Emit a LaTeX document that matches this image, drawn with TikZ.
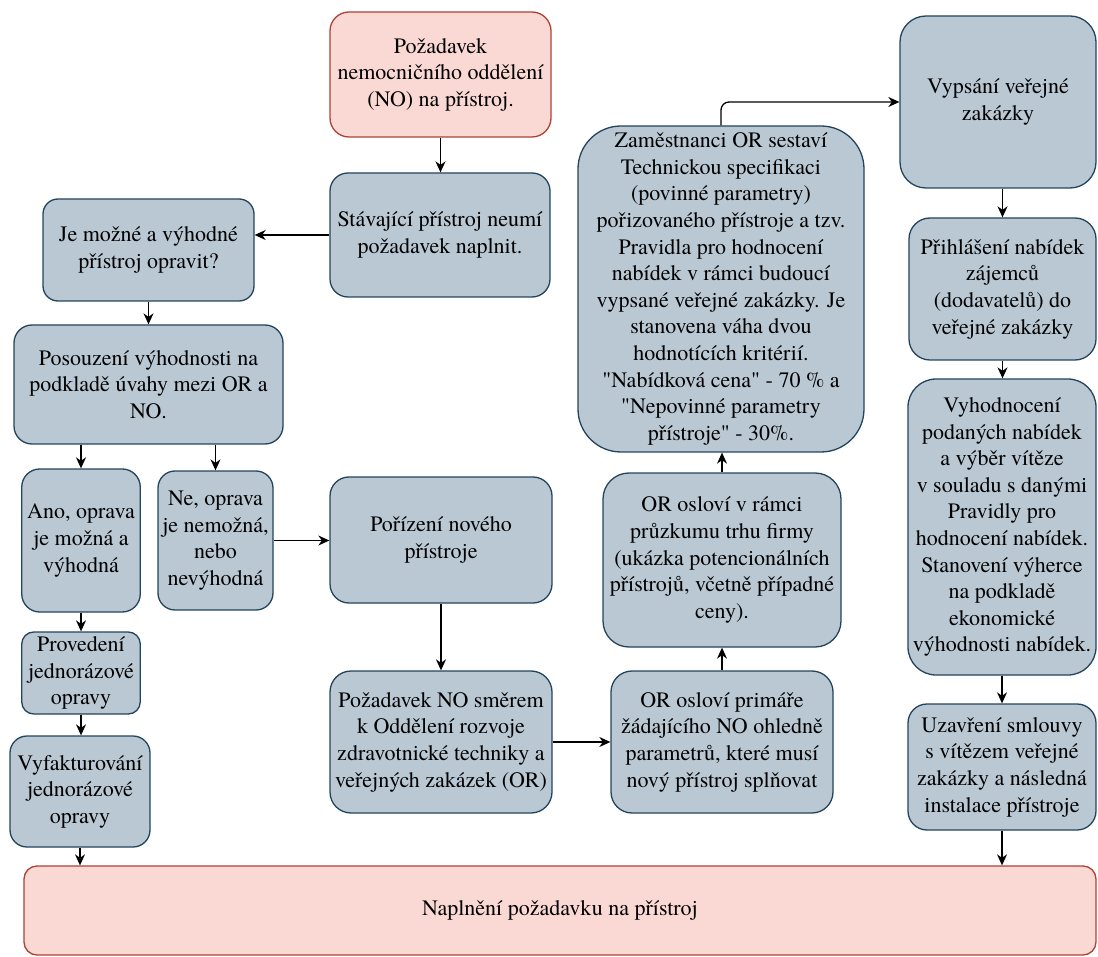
\documentclass[tikz,border=0pt]{standalone}
\usepackage{fontspec}
\setmainfont{TeX Gyre Termes}[Ligatures=TeXOff]
\usetikzlibrary{arrows.meta}
\definecolor{fillblue}{HTML}{BAC8D3}
\definecolor{strokeblue}{HTML}{23445D}
\definecolor{fillpink}{HTML}{FAD9D5}
\definecolor{strokepink}{HTML}{AE4132}
\tikzset{
  boxbase/.style={line width=1.3pt, align=center, inner sep=0pt, text=black,
    font=\rmfamily\fontsize{22}{26.6}\selectfont},
  bluebox/.style={boxbase, draw=strokeblue, fill=fillblue},
  pinkbox/.style={boxbase, draw=strokepink, fill=fillpink},
  sz/.style n args={3}{minimum width=#1pt, minimum height=#2pt, rounded corners=#3pt},
  arr/.style={-{Stealth[length=11pt,width=10pt,inset=3.5pt]}, line width=1.3pt, draw=black},
}
\begin{document}
\begin{tikzpicture}[x=1pt,y=-1pt]
\useasboundingbox (0,0) rectangle (1098,957);
% left / middle column
\node[pinkbox, sz={221}{125}{19}] (A) at (440.5,74.5) {Požadavek\\nemocničního oddělení\\(NO) na přístroj.};
\node[bluebox, sz={220}{124}{18}] (B) at (440,235) {Stávající přístroj neumí\\požadavek naplnit.};
\node[bluebox, sz={211}{102}{15}] (C) at (148.5,250) {Je možné a výhodné\\přístroj opravit?};
\node[bluebox, sz={269}{119}{18}] (D) at (148.5,384.5) {Posouzení výhodnosti na\\podkladě úvahy mezi OR a\\NO.};
\node[bluebox, sz={118.5}{143}{18}] (E) at (81,540.5) {Ano, oprava\\je možná a\\výhodná};
\node[bluebox, sz={115}{139}{17}] (F) at (215.5,540.5) {Ne, oprava\\je nemožná,\\nebo\\nevýhodná};
\node[bluebox, sz={222}{126}{19}] (G) at (441,540) {Pořízení nového\\přístroje};
\node[bluebox, sz={118.5}{82}{12}] (H) at (81,673) {Provedení\\jednorázové\\opravy};
\node[bluebox, sz={140}{111}{17}] (I) at (80,791.5) {Vyfakturování\\jednorázové\\opravy};
\node[pinkbox, sz={1072}{89}{13}] (J) at (560,910.5) {Naplnění požadavku na přístroj};
\node[bluebox, sz={222}{142}{21}] (K) at (441,742) {Požadavek NO směrem\\k Oddělení rozvoje\\zdravotnické techniky a\\veřejných zakázek (OR)};
% OR column
\node[bluebox, sz={222}{142}{21}] (L) at (722,742) {OR osloví primáře\\žádajícího NO ohledně\\parametrů, které musí\\nový přístroj splňovat};
\node[bluebox, sz={238}{174}{26}] (P) at (722,560) {OR osloví v rámci\\průzkumu trhu firmy\\(ukázka potencionálních\\přístrojů, včetně případné\\ceny).};
\node[bluebox, sz={286}{326}{43}] (O) at (721,289) {Zaměstnanci OR sestaví\\Technickou specifikaci\\(povinné parametry)\\pořizovaného přístroje a tzv.\\Pravidla pro hodnocení\\nabídek v rámci budoucí\\vypsané veřejné zakázky. Je\\stanovena váha dvou\\hodnotících kritérií.\\"Nabídková cena" - 70 \% a\\"Nepovinné parametry\\přístroje" - 30\%.};
% right column
\node[bluebox, sz={196}{172}{26}] (R) at (998,102) {Vypsání veřejné\\zakázky};
\node[bluebox, sz={187}{142}{21}] (Q) at (1002.5,289) {Přihlášení nabídek\\zájemců\\(dodavatelů) do\\veřejné zakázky};
\node[bluebox, sz={188}{296}{28}] (N) at (1002,527) {Vyhodnocení\\podaných nabídek\\a výběr vítěze\\v souladu s danými\\Pravidly pro\\hodnocení nabídek.\\Stanovení výherce\\na podkladě\\ekonomické\\výhodnosti nabídek.};
\node[bluebox, sz={188}{126}{19}] (M) at (1002,767) {Uzavření smlouvy\\s vítězem veřejné\\zakázky a následná\\instalace přístroje};
% connectors
\draw[arr] (A.south) -- (A.south |- B.north);
\draw[arr] (B.west) -- (B.west -| C.east);
\draw[arr] (C.south) -- (C.south |- D.north);
\draw[arr] (D.south -| E.north) -- (E.north);
\draw[arr] (D.south -| F.north) -- (F.north);
\draw[arr] (E.south) -- (E.south |- H.north);
\draw[arr] (H.south) -- (H.south |- I.north);
\draw[arr] (I.south) -- (I.south |- J.north);
\draw[arr] (F.east) -- (F.east -| G.west);
\draw[arr] (G.south) -- (G.south |- K.north);
\draw[arr] (K.east) -- (K.east -| L.west);
\draw[arr] (L.north) -- (L.north |- P.south);
\draw[arr] (P.north) -- (P.north |- O.south);
\draw[arr, rounded corners=8pt] (O.north) |- (R.west);
\draw[arr] (Q.north |- R.south) -- (Q.north);
\draw[arr] (Q.south) -- (Q.south |- N.north);
\draw[arr] (N.south) -- (N.south |- M.north);
\draw[arr] (M.south) -- (M.south |- J.north);
\end{tikzpicture}
\end{document}
